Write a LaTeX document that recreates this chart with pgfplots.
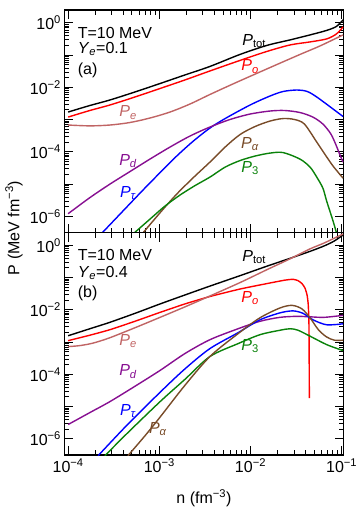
\documentclass[border=0pt]{standalone}
\usepackage{fontspec}
\setmainfont{Liberation Sans}
\usepackage{pgfplots}
\pgfplotsset{compat=1.18}

\definecolor{cpe}{RGB}{192,100,100}
\definecolor{cpd}{RGB}{135,15,145}
\definecolor{cpa}{RGB}{120,75,40}
\definecolor{cpt}{RGB}{10,130,10}

\newcommand{\fs}{\fontsize{16}{19}\selectfont}
\newcommand{\Pv}[1]{\textit{P}\textsubscript{#1}}

\begin{document}
\begin{tikzpicture}
\useasboundingbox (0pt,0pt) rectangle (362pt,-511pt);

% panel (a): Ye = 0.1
\begin{axis}[name=top, at={(64.5pt,-10pt)}, anchor=north west,
  xmode=log, ymode=log,
  scale only axis, width=279pt, height=222.5pt,
  xmin=9.12e-5, xmax=0.1047, ymin=3.16e-7, ymax=2.51,
  xtick={1e-4,1e-3,1e-2,1e-1}, xticklabels={},
  ytick={1e-6,1e-5,1e-4,1e-3,1e-2,1e-1,1},
  yticklabels={10\textsuperscript{−6},,10\textsuperscript{−4},,10\textsuperscript{−2},,10\textsuperscript{0}},
  tick pos=both, tick align=inside,
  major tick length=9pt, minor tick length=5pt,
  tick style={black, line width=0.9pt},
  axis line style={line width=1.3pt},
  tick label style={font=\fs}]
\addplot[black, line width=1.4pt, smooth] coordinates {(1.0e-4,1.72e-3) (1.73e-4,2.74e-3) (2.87e-4,4.06e-3) (5.4e-4,7.2e-3) (1.02e-3,1.32e-2) (1.91e-3,2.43e-2) (3.59e-3,4.46e-2) (7.67e-3,0.105) (1.51e-2,0.2) (2.72e-2,0.297) (4.5e-2,0.424) (6.85e-2,0.585) (8.77e-2,0.778) (0.1035,1.24)};
\addplot[red, line width=1.4pt, smooth] coordinates {(1.0e-4,1.2e-3) (1.73e-4,1.92e-3) (2.87e-4,2.84e-3) (5.4e-4,5.03e-3) (1.02e-3,9.25e-3) (1.91e-3,1.7e-2) (3.59e-3,3.23e-2) (7.67e-3,6.85e-2) (1.51e-2,0.13) (2.72e-2,0.207) (4.5e-2,0.257) (6.85e-2,0.319) (8.77e-2,0.455) (0.1035,0.751)};
\addplot[cpe, line width=1.4pt, smooth] coordinates {(1.0e-4,6.8e-4) (1.73e-4,6.41e-4) (2.87e-4,6.8e-4) (4.75e-4,8.13e-4) (7.89e-4,1.12e-3) (1.31e-3,1.72e-3) (2.17e-3,3.05e-3) (3.59e-3,6.02e-3) (6.43e-3,1.28e-2) (1.51e-2,3.73e-2) (3.49e-2,0.105) (5.79e-2,0.193) (0.1035,0.424)};
\addplot[blue, line width=1.4pt, smooth] coordinates {(2.23e-4,2.6e-7) (4.38e-4,1.93e-6) (6.61e-4,6.52e-6) (1.02e-3,2.28e-5) (1.55e-3,7.41e-5) (2.36e-3,2.16e-4) (3.59e-3,5.48e-4) (5.27e-3,1.08e-3) (9.89e-3,2.84e-3) (1.64e-2,5.41e-3) (2.28e-2,7.46e-3) (3.25e-2,8.3e-3) (4.19e-2,7.46e-3) (5.33e-2,5.03e-3) (8.05e-2,2.13e-3) (0.1035,1.25e-3)};
\addplot[cpd, line width=1.4pt, smooth] coordinates {(1.0e-4,1.21e-6) (1.73e-4,3.81e-6) (2.87e-4,1.0e-5) (4.75e-4,2.44e-5) (7.89e-4,5.97e-5) (1.31e-3,1.41e-4) (2.17e-3,3.1e-4) (3.59e-3,5.89e-4) (5.96e-3,1.01e-3) (9.89e-3,1.49e-3) (1.64e-2,1.85e-3) (2.37e-2,1.92e-3) (3.49e-2,1.66e-3) (4.83e-2,1.2e-3) (6.22e-2,7.3e-4) (7.62e-2,3.57e-4) (8.77e-2,1.51e-4) (9.59e-2,7.96e-5) (0.1035,4.82e-5)};
\addplot[cpa, line width=1.4pt, smooth] coordinates {(6.44e-4,2.8e-7) (1.02e-3,1.3e-6) (1.55e-3,4.89e-6) (2.36e-3,1.59e-5) (3.59e-3,4.82e-5) (5.27e-3,1.41e-4) (7.67e-3,3.44e-4) (1.12e-2,6.1e-4) (1.64e-2,9.05e-4) (2.28e-2,1.08e-3) (3.03e-2,1.01e-3) (3.9e-2,7.3e-4) (5.33e-2,2.01e-4) (6.75e-2,7.41e-5) (8.05e-2,3.62e-5) (0.1035,1.53e-5)};
\addplot[cpt, line width=1.4pt, smooth] coordinates {(5.26e-4,3.0e-7) (7.89e-4,8.19e-7) (1.15e-3,2.07e-6) (1.68e-3,4.55e-6) (2.46e-3,8.98e-6) (3.59e-3,1.65e-5) (5.27e-3,3.37e-5) (7.67e-3,5.37e-5) (1.12e-2,7.41e-5) (1.64e-2,9.18e-5) (2.28e-2,9.51e-5) (3.49e-2,5.97e-5) (4.5e-2,3.37e-5) (5.33e-2,1.65e-5) (6.22e-2,7.52e-6) (6.85e-2,2.96e-6) (8.05e-2,7.1e-7) (9.12e-2,2.1e-7)};
\node[anchor=west, font=\fs] at (rel axis cs:0.035,0.897) {T=10 MeV};
\node[anchor=west, font=\fs] at (rel axis cs:0.035,0.825) {\textit{Y}\textsubscript{\textit{e}}=0.1};
\node[anchor=west, font=\fs] at (rel axis cs:0.035,0.730) {(a)};
\node[font=\fs, text=black] at (rel axis cs:0.68,0.86) {\Pv{tot}};
\node[font=\fs, text=red] at (rel axis cs:0.665,0.745) {\Pv{\textit{o}}};
\node[font=\fs, text=cpe] at (rel axis cs:0.228,0.54) {\Pv{\textit{e}}};
\node[font=\fs, text=cpd] at (rel axis cs:0.228,0.322) {\Pv{\textit{d}}};
\node[font=\fs, text=blue] at (rel axis cs:0.228,0.178) {\Pv{\textit{τ}}};
\node[font=\fs, text=cpa] at (rel axis cs:0.665,0.398) {\Pv{\textit{α}}};
\node[font=\fs, text=cpt] at (rel axis cs:0.665,0.29) {\Pv{3}};
\end{axis}

% panel (b): Ye = 0.4
\begin{axis}[at={(top.south west)}, anchor=north west,
  xmode=log, ymode=log,
  scale only axis, width=279pt, height=222.5pt,
  xmin=9.12e-5, xmax=0.1047, ymin=3.16e-7, ymax=2.51,
  xtick={1e-4,1e-3,1e-2,1e-1},
  xticklabels={10\textsuperscript{−4},10\textsuperscript{−3},10\textsuperscript{−2},10\textsuperscript{−1}},
  ytick={1e-6,1e-5,1e-4,1e-3,1e-2,1e-1,1},
  yticklabels={10\textsuperscript{−6},,10\textsuperscript{−4},,10\textsuperscript{−2},,10\textsuperscript{0}},
  tick pos=both, tick align=inside,
  major tick length=9pt, minor tick length=5pt,
  tick style={black, line width=0.9pt},
  axis line style={line width=1.3pt},
  tick label style={font=\fs},
  xlabel={n (fm\textsuperscript{−3})},
  xlabel style={font=\fs, at={(axis description cs:0.5,-0.193)}, anchor=center}]
\addplot[black, line width=1.4pt, smooth] coordinates {(1.0e-4,1.58e-3) (1.73e-4,2.6e-3) (2.87e-4,4.12e-3) (5.4e-4,7.8e-3) (1.02e-3,1.53e-2) (1.91e-3,2.9e-2) (3.59e-3,5.47e-2) (7.67e-3,0.115) (1.51e-2,0.226) (2.72e-2,0.398) (4.5e-2,0.654) (6.44e-2,0.966) (8.3e-2,1.37) (0.1035,2.1)};
\addplot[red, line width=1.4pt, smooth, tension=0.35] coordinates {(1.0e-4,1.11e-3) (1.73e-4,1.64e-3) (2.87e-4,2.43e-3) (5.4e-4,4.43e-3) (1.02e-3,8.38e-3) (1.91e-3,1.53e-2) (3.59e-3,2.6e-2) (7.67e-3,4.43e-2) (1.51e-2,6.53e-2) (2.39e-2,8.38e-2) (2.93e-2,8.87e-2) (3.32e-2,8.09e-2) (3.67e-2,6.53e-2) (3.96e-2,4.75e-2) (4.17e-2,2.9e-2) (4.3e-2,1.43e-2) (4.38e-2,3.0e-3) (4.42e-2,1.83e-5)};
\addplot[cpe, line width=1.4pt, smooth] coordinates {(1.0e-4,7.27e-4) (1.34e-4,7.8e-4) (1.87e-4,9.31e-4) (2.87e-4,1.37e-3) (5.4e-4,2.79e-3) (1.02e-3,5.88e-3) (1.91e-3,1.24e-2) (3.59e-3,2.7e-2) (7.67e-3,7.02e-2) (1.51e-2,0.176) (2.72e-2,0.384) (4.5e-2,0.78) (6.44e-2,1.19) (0.1035,2.26)};
\addplot[cpd, line width=1.4pt, smooth] coordinates {(1.0e-4,2.79e-6) (1.73e-4,6.53e-6) (2.87e-4,1.43e-5) (5.4e-4,4.27e-5) (1.02e-3,1.33e-4) (1.91e-3,4.43e-4) (3.59e-3,1.19e-3) (7.3e-3,2.6e-3) (1.27e-2,4.43e-3) (2.11e-2,5.88e-3) (3.25e-2,6.31e-3) (4.5e-2,6.09e-3) (6.44e-2,5.88e-3) (0.1035,6.77e-3)};
\addplot[blue, line width=1.4pt, smooth] coordinates {(2.13e-4,3.0e-7) (4.38e-4,2.6e-6) (1.02e-3,2.79e-5) (1.91e-3,1.48e-4) (3.59e-3,6.31e-4) (7.3e-3,1.96e-3) (1.27e-2,4.92e-3) (2.11e-2,8.09e-3) (2.93e-2,9.31e-3) (3.77e-2,7.8e-3) (4.85e-2,4.92e-3) (6.85e-2,3.45e-3) (0.1035,3.71e-3)};
\addplot[cpt, line width=1.4pt, smooth] coordinates {(2.53e-4,3.0e-7) (4.38e-4,1.43e-6) (1.02e-3,1.43e-5) (1.91e-3,7.02e-5) (3.59e-3,3.58e-4) (7.3e-3,8.99e-4) (1.27e-2,1.7e-3) (2.11e-2,2.34e-3) (2.72e-2,2.6e-3) (3.32e-2,2.34e-3) (4.5e-2,1.53e-3) (6.85e-2,8.37e-4) (0.1035,5.47e-4)};
\addplot[cpa, line width=1.4pt, smooth] coordinates {(4.52e-4,3.0e-7) (6.95e-4,1.24e-6) (1.02e-3,4.75e-6) (1.91e-3,4.59e-5) (3.59e-3,3.58e-4) (7.3e-3,1.83e-3) (1.27e-2,5.68e-3) (2.11e-2,1.15e-2) (2.86e-2,1.38e-2) (3.67e-2,1.07e-2) (4.5e-2,5.68e-3) (5.5e-2,2.51e-3) (6.75e-2,1.48e-3) (8.3e-2,1.15e-3) (0.1035,1.15e-3)};
\node[anchor=west, font=\fs] at (rel axis cs:0.035,0.899) {T=10 MeV};
\node[anchor=west, font=\fs] at (rel axis cs:0.035,0.818) {\textit{Y}\textsubscript{\textit{e}}=0.4};
\node[anchor=west, font=\fs] at (rel axis cs:0.035,0.728) {(b)};
\node[font=\fs, text=black] at (rel axis cs:0.68,0.89) {\Pv{tot}};
\node[font=\fs, text=red] at (rel axis cs:0.665,0.706) {\Pv{\textit{o}}};
\node[font=\fs, text=cpe] at (rel axis cs:0.228,0.513) {\Pv{\textit{e}}};
\node[font=\fs, text=cpd] at (rel axis cs:0.228,0.374) {\Pv{\textit{d}}};
\node[font=\fs, text=blue] at (rel axis cs:0.228,0.198) {\Pv{\textit{τ}}};
\node[font=\fs, text=cpa] at (rel axis cs:0.335,0.117) {\Pv{\textit{α}}};
\node[font=\fs, text=cpt] at (rel axis cs:0.665,0.49) {\Pv{3}};
\end{axis}

\node[rotate=90, font=\fs] at (14pt,-228pt) {P (MeV fm\textsuperscript{−3})};
\end{tikzpicture}
\end{document}
